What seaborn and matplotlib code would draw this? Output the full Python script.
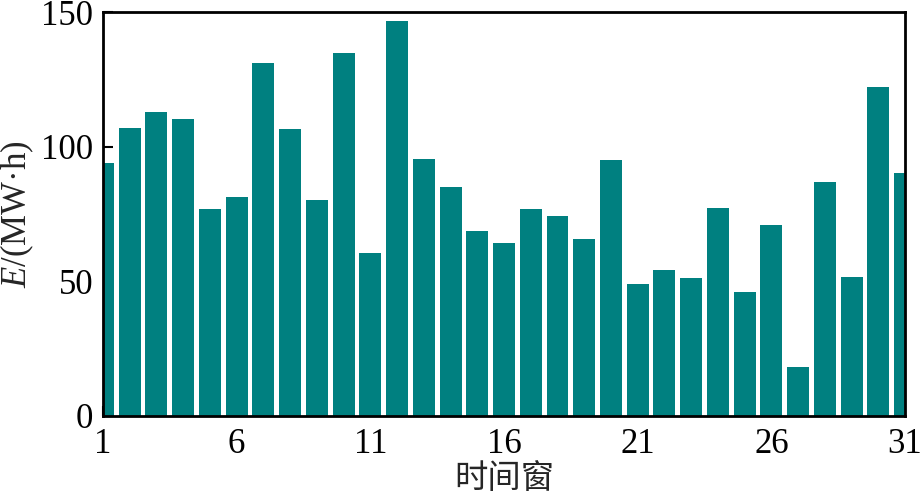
import pandas as pd
import matplotlib
matplotlib.use('Agg')
import matplotlib.pyplot as plt
import seaborn as sns

windows = list(range(1, 32))
energy = [94.0, 107.1, 112.9, 110.4, 76.9, 81.3, 131.2, 106.6, 80.2, 134.6,
          60.5, 146.7, 95.4, 85.0, 68.7, 64.2, 76.9, 74.3, 65.7, 95.1,
          49.0, 54.2, 51.2, 77.2, 46.0, 70.9, 18.2, 86.9, 51.6, 122.2, 90.2]
xticks = [1, 6, 11, 16, 21, 26, 31]
yticks = [0, 50, 100, 150]

df = pd.DataFrame({'window': windows, 'E': energy})

sns.set_style('ticks')
plt.rcParams['font.family'] = ['Liberation Serif', 'Noto Sans CJK SC']
plt.rcParams['mathtext.fontset'] = 'custom'
plt.rcParams['mathtext.it'] = 'Liberation Serif:italic'
plt.rcParams['mathtext.rm'] = 'Liberation Serif'
plt.rcParams['xtick.direction'] = 'in'
plt.rcParams['ytick.direction'] = 'in'

fig = plt.figure(figsize=(9.22, 4.98), dpi=100)
ax = fig.add_axes([0.1117, 0.1647, 0.8699, 0.8112])

sns.barplot(data=df, x='window', y='E', native_scale=True, color='#008080',
            saturation=1, width=0.82, linewidth=0, ax=ax)

ax.set_xlim(1, 31)
ax.set_ylim(0, 150)
ax.set_xticks(xticks)
ax.set_yticks(yticks)
ax.tick_params(labelsize=25, length=7, width=1.5, colors='black')
ax.tick_params(axis='x', pad=9)
ax.tick_params(axis='y', pad=7)
for s in ax.spines.values():
    s.set_linewidth(2)
    s.set_color('black')

ax.set_xlabel('时间窗', fontsize=24, labelpad=2)
ax.set_ylabel('$E$/(MW·h)', fontsize=25, labelpad=4)

fig.savefig('out.png', dpi=100)
